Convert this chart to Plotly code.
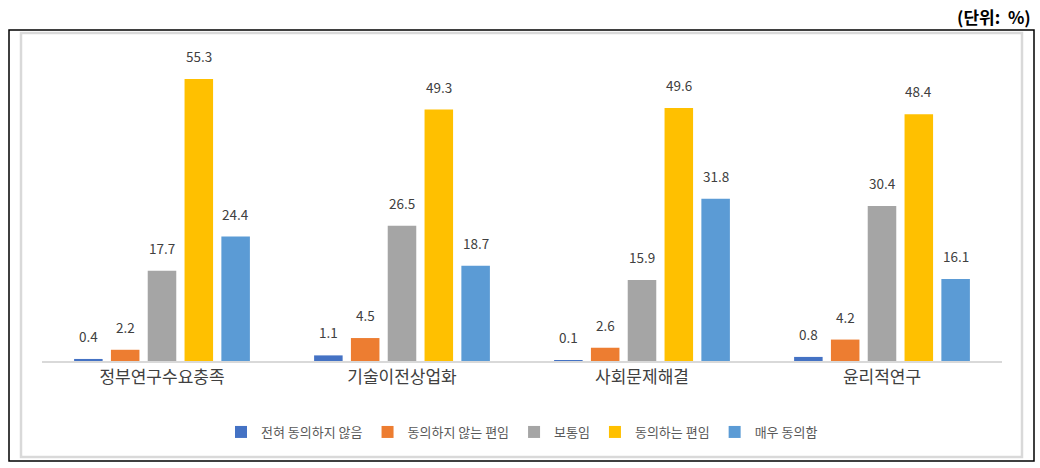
import plotly.graph_objects as go

categories = ["정부연구수요충족", "기술이전상업화", "사회문제해결", "윤리적연구"]
series_names = ["전혀 동의하지 않음", "동의하지 않는 편임", "보통임", "동의하는 편임", "매우 동의함"]
strongly_disagree = [0.4, 1.1, 0.1, 0.8]
disagree = [2.2, 4.5, 2.6, 4.2]
neutral = [17.7, 26.5, 15.9, 30.4]
agree = [55.3, 49.3, 49.6, 48.4]
strongly_agree = [24.4, 18.7, 31.8, 16.1]
series_values = [strongly_disagree, disagree, neutral, agree, strongly_agree]
colors = ["#4472C4", "#ED7D31", "#A5A5A5", "#FFC000", "#5B9BD5"]

FONT = "Noto Sans CJK KR, Noto Sans, sans-serif"

W, H = 1040, 468
L, R, T, B = 42, 38, 55, 107
pw, ph = W - L - R, H - T - B
BARGAP = 0.233
BARGROUPGAP = 0.225
n_series = len(series_names)
slot = pw / len(categories) * (1 - BARGAP) / n_series

fig = go.Figure()
annotations = []
for i, (name, vals, col) in enumerate(zip(series_names, series_values, colors)):
    fig.add_trace(go.Bar(
        x=categories, y=vals, name=name,
        marker=dict(color=col, line=dict(width=0)),
        cliponaxis=False,
    ))
    for cat, v in zip(categories, vals):
        annotations.append(dict(
            x=cat, y=v, xref="x", yref="y", text=f"{v:.1f}",
            showarrow=False, xanchor="center", yanchor="bottom",
            xshift=(i - (n_series - 1) / 2) * slot, yshift=11,
            font=dict(size=13.5, color="#404040", family=FONT),
        ))


def px(x):
    return (x - L) / pw


def py(y):
    return (H - B - y) / ph


shapes = [
    dict(type="rect", xref="paper", yref="paper",
         x0=px(9), x1=px(1034), y0=py(461), y1=py(30),
         line=dict(color="#000000", width=1.5), fillcolor="rgba(0,0,0,0)", layer="below"),
    dict(type="rect", xref="paper", yref="paper",
         x0=px(21), x1=px(1022), y0=py(457), y1=py(33),
         line=dict(color="#D9D9D9", width=2.5), fillcolor="rgba(0,0,0,0)", layer="below"),
]

annotations.append(dict(text="<b>(단위:  %)</b>", xref="paper", yref="paper",
                        x=px(1033), xanchor="right", y=py(16), yanchor="middle",
                        showarrow=False, font=dict(size=17, color="#000000", family=FONT)))

fig.update_layout(
    width=W, height=H,
    margin=dict(l=L, r=R, t=T, b=B),
    paper_bgcolor="white", plot_bgcolor="white",
    barmode="group", bargap=BARGAP, bargroupgap=BARGROUPGAP,
    font=dict(family=FONT, color="#404040"),
    showlegend=True,
    legend=dict(orientation="h", x=0.5, xanchor="center", y=py(432), yanchor="middle",
                font=dict(size=13, color="#595959", family=FONT),
                itemwidth=30, tracegroupgap=0),
    xaxis=dict(showline=True, linecolor="#D9D9D9", linewidth=1.5, ticks="",
               tickfont=dict(size=17, color="#404040", family=FONT), showgrid=False),
    yaxis=dict(range=[0, 60], visible=False, showgrid=False, zeroline=False),
    shapes=shapes,
    annotations=annotations,
)

fig.write_html("out.html")
